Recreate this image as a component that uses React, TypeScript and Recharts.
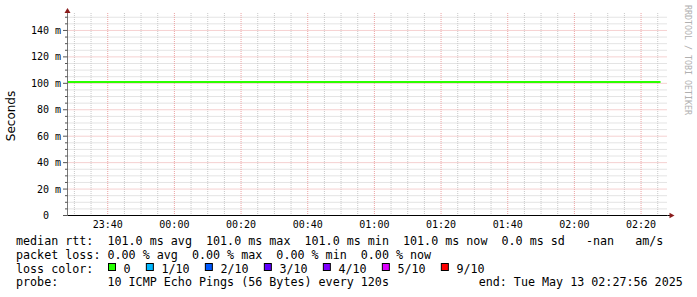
import React from 'react';
import { LineChart, Line, XAxis, YAxis, CartesianGrid, ReferenceDot } from 'recharts';

// time axis: minutes relative to 00:00 on May 13
const START = -(32 + 4 / 60); // 23:27:56
const END = 147 + 56 / 60; // 02:27:56

const sampleTimes = [-32.07, -20, -8, 4, 16, 28, 40, 52, 64, 76, 88, 100, 112, 124, 136, 145.85];
const medianRtt = [101.0, 101.0, 101.0, 101.0, 101.0, 101.0, 101.0, 101.0, 101.0, 101.0, 101.0, 101.0, 101.0, 101.0, 101.0, 101.0];

const xMajorTicks = [-20, 0, 20, 40, 60, 80, 100, 120, 140];
const xTickLabels = ['23:40', '00:00', '00:20', '00:40', '01:00', '01:20', '01:40', '02:00', '02:20'];
const xMinorTicks = [-30, -25, -15, -10, -5, 5, 10, 15, 25, 30, 35, 45, 50, 55, 65, 70, 75, 85, 90, 95, 105, 110, 115, 125, 130, 135, 145];

const yMajorTicks = [0, 20, 40, 60, 80, 100, 120, 140];
const yTickLabels = ['0  ', '20 m', '40 m', '60 m', '80 m', '100 m', '120 m', '140 m'];
const yMinorTicks = [5, 10, 15, 25, 30, 35, 45, 50, 55, 65, 70, 75, 85, 90, 95, 105, 110, 115, 125, 130, 135, 145, 150];
const Y_MAX = 153.2;

const lossLabels = ['0', '1/10', '2/10', '3/10', '4/10', '5/10', '9/10'];
const lossColors = ['#26ff00', '#00b8ff', '#0059ff', '#5e00ff', '#7e00ff', '#dd00ff', '#ff0000'];

const rttStats = { avg: '101.0', max: '101.0', min: '101.0', now: '101.0', sd: '0.0' };
const lossStats = { avg: '0.00', max: '0.00', min: '0.00', now: '0.00' };
const probeText = '10 ICMP Echo Pings (56 Bytes) every 120s';
const endText = 'end: Tue May 13 02:27:56 2025';

const chartData = sampleTimes.map((t, i) => ({ t, rtt: medianRtt[i] }));

const MONO = '"DejaVu Sans Mono", monospace';
const allYTicks = [...yMajorTicks, ...yMinorTicks].sort((a, b) => a - b);
const PRE: React.CSSProperties = { whiteSpace: 'pre' };

function YTick(props: any) {
  const { x, y, payload } = props;
  const v = payload.value;
  const idx = yMajorTicks.indexOf(v);
  const major = idx >= 0;
  return (
    <g>
      <line x1={x - (major ? 4.5 : 2.5)} x2={x} y1={y} y2={y} stroke="#555" strokeWidth={1} />
      {major && (
        <text x={x - 6.5} y={y} textAnchor="end" dominantBaseline="central" fontFamily={MONO} fontSize={10} fill="#000" style={PRE} xmlSpace="preserve">
          {yTickLabels[idx]}
        </text>
      )}
    </g>
  );
}

function XTick(props: any) {
  const { x, y, payload } = props;
  const idx = xMajorTicks.indexOf(payload.value);
  return (
    <text x={x} y={y + 9} textAnchor="middle" dominantBaseline="central" fontFamily={MONO} fontSize={10} fill="#000">
      {idx >= 0 ? xTickLabels[idx] : ''}
    </text>
  );
}

const ARROW = '#8a1c1c';

function LegendText(props: { x: number; y: number; children: string }) {
  return (
    <text x={props.x} y={props.y} fontFamily={MONO} fontSize={11.7} fill="#000" style={PRE} xmlSpace="preserve">
      {props.children}
    </text>
  );
}

export default function App() {
  const cw = 7.05;
  const boxes: { x: number; tx: number; label: string; color: string }[] = [];
  let bx = 108;
  lossLabels.forEach((label, i) => {
    const tx = bx + 15.6;
    boxes.push({ x: bx, tx, label, color: lossColors[i] });
    bx = tx + label.length * cw + 15.2;
  });

  const row1 = `median rtt:  ${rttStats.avg} ms avg  ${rttStats.max} ms max  ${rttStats.min} ms min  ${rttStats.now} ms now  ${rttStats.sd} ms sd   -nan   am/s`;
  const row2 = `packet loss: ${lossStats.avg} % avg  ${lossStats.max} % max  ${lossStats.min} % min  ${lossStats.now} % now`;
  const row4 = `probe:       ${probeText}`;

  return (
    <div style={{ position: 'absolute', left: 0, top: 0, width: 697, height: 297, background: '#fff' }}>
      <LineChart width={697} height={297} data={chartData} margin={{ top: 13, right: 29.5, bottom: 61.5, left: 7.5 }}>
        <CartesianGrid horizontalValues={yMinorTicks} verticalValues={xMinorTicks} stroke="#c8c8c8" strokeDasharray="1 1" />
        <CartesianGrid horizontalValues={yMajorTicks.slice(1)} verticalValues={xMajorTicks} stroke="#eba2a2" strokeDasharray="1 1" />
        <XAxis
          dataKey="t"
          type="number"
          domain={[START, END]}
          ticks={xMajorTicks}
          interval={0}
          height={20}
          tickSize={0}
          tickMargin={0}
          tickLine={false}
          axisLine={{ stroke: '#000' }}
          tick={<XTick />}
          allowDataOverflow
        />
        <YAxis
          type="number"
          domain={[0, Y_MAX]}
          ticks={allYTicks}
          interval={0}
          width={60}
          tickSize={0}
          tickMargin={0}
          tickLine={false}
          axisLine={{ stroke: '#777' }}
          tick={<YTick />}
          allowDataOverflow
        />
        <Line dataKey="rtt" type="linear" stroke="#2bff00" strokeWidth={2} dot={false} isAnimationActive={false} />
        <ReferenceDot
          x={START}
          y={Y_MAX}
          ifOverflow="visible"
          shape={(p: any) => (
            <polygon points={`${p.cx},${p.cy - 5} ${p.cx - 3},${p.cy} ${p.cx + 3},${p.cy}`} fill={ARROW} />
          )}
        />
        <ReferenceDot
          x={END}
          y={0}
          ifOverflow="visible"
          shape={(p: any) => (
            <g>
              <line x1={p.cx} x2={p.cx + 2.5} y1={p.cy} y2={p.cy} stroke="#000" />
              <polygon points={`${p.cx + 2},${p.cy - 2.7} ${p.cx + 7},${p.cy} ${p.cx + 2},${p.cy + 2.7}`} fill={ARROW} />
            </g>
          )}
        />
      </LineChart>
      <svg width={697} height={297} style={{ position: 'absolute', left: 0, top: 0, pointerEvents: 'none' }}>
        <text transform="translate(10.8,116) rotate(-90)" textAnchor="middle" dominantBaseline="central" fontFamily='"DejaVu Sans", sans-serif' fontSize={12} fill="#000">
          Seconds
        </text>
        <text transform="translate(688,60) rotate(90)" textAnchor="middle" dominantBaseline="central" fontFamily={MONO} fontSize={8.3} fill="#b0b0b0">
          RRDTOOL / TOBI OETIKER
        </text>
        <LegendText x={16} y={244.7}>{row1}</LegendText>
        <LegendText x={16} y={258.6}>{row2}</LegendText>
        <LegendText x={16} y={272.5}>loss color:</LegendText>
        {boxes.map((b) => (
          <g key={b.label}>
            <rect x={b.x + 0.5} y={263.5} width={7} height={7} fill={b.color} stroke="#000" strokeWidth={1} />
            <LegendText x={b.tx} y={272.5}>{b.label}</LegendText>
          </g>
        ))}
        <LegendText x={16} y={286.4}>{row4}</LegendText>
        <LegendText x={478.7} y={286.4}>{endText}</LegendText>
      </svg>
    </div>
  );
}
